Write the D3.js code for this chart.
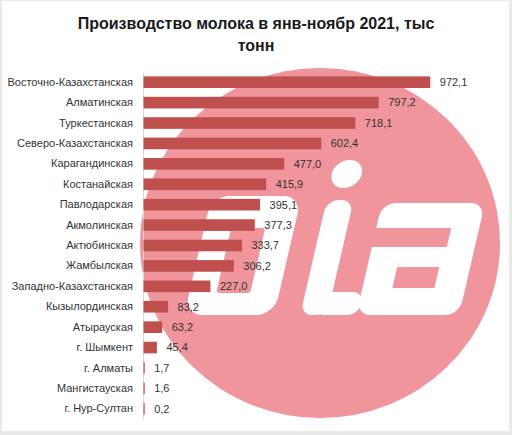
<!DOCTYPE html>
<html>
<head>
<meta charset="utf-8">
<script src="https://cdn.jsdelivr.net/npm/d3@7"></script>
<style>
    body { margin: 0; background: #e9e9e9; }
    svg { display: block; }
</style>
</head>
<body>
<svg id="chart" width="512" height="435"></svg>
<script>
let regions = ["Восточно-Казахстанская", "Алматинская", "Туркестанская", "Северо-Казахстанская",
    "Карагандинская", "Костанайская", "Павлодарская", "Акмолинская", "Актюбинская", "Жамбылская",
    "Западно-Казахстанская", "Кызылординская", "Атырауская", "г. Шымкент", "г. Алматы",
    "Мангистауская", "г. Нур-Султан"];
let values = [972.1, 797.2, 718.1, 602.4, 477.0, 415.9, 395.1, 377.3, 333.7, 306.2, 227.0, 83.2, 63.2, 45.4, 1.7, 1.6, 0.2];
let titleLines = ["Производство молока в янв-ноябр 2021, тыс", "тонн"];

const barColor = "#c0504d";
const logoPink = "#f0959c";
const font = "'Liberation Sans', Arial, sans-serif";

let svg = d3.select("#chart");

// chart area (white with light grey frame)
svg.append("rect")
    .attr("x", 2).attr("y", 1)
    .attr("width", 507).attr("height", 430)
    .attr("fill", "#ffffff");

// watermark logo behind the bars
let logo = svg.append("g");
logo.append("ellipse")
    .attr("cx", 320).attr("cy", 243)
    .attr("rx", 180).attr("ry", 175)
    .attr("fill", logoPink);

// letters are slanted around y = 203
let letters = logo.append("g")
    .attr("transform", "translate(0,203) skewX(-13) translate(0,-203)");
// ring
letters.append("rect").attr("x", 210).attr("y", 196).attr("width", 90).attr("height", 119).attr("rx", 18).attr("fill", "#fff");
letters.append("rect").attr("x", 237).attr("y", 228).attr("width", 34).attr("height", 65).attr("rx", 3).attr("fill", logoPink);
// i
letters.append("ellipse").attr("cx", 340).attr("cy", 174).attr("rx", 15).attr("ry", 14).attr("fill", "#fff");
letters.append("rect").attr("x", 326).attr("y", 200).attr("width", 27).attr("height", 115).attr("rx", 12).attr("fill", "#fff");
letters.append("rect").attr("x", 340).attr("y", 292).attr("width", 44).attr("height", 23).attr("rx", 10).attr("fill", "#fff");
// a
letters.append("rect").attr("x", 382).attr("y", 203).attr("width", 103).attr("height", 112).attr("rx", 14).attr("fill", "#fff");
letters.append("rect").attr("x", 370).attr("y", 228).attr("width", 87).attr("height", 19).attr("fill", logoPink);
letters.append("rect").attr("x", 412).attr("y", 267).attr("width", 42).attr("height", 21).attr("fill", logoPink);

// title
svg.append("g").selectAll("text")
    .data(titleLines)
    .enter().append("text")
        .attr("x", 256)
        .attr("y", (d, i) => 29 + i * 22)
        .attr("text-anchor", "middle")
        .style("font-family", font)
        .style("font-weight", "bold")
        .style("font-size", "16px")
        .attr("fill", "#1a1a1a")
        .text(d => d);

// scales
let x = d3.scaleLinear()
    .domain([0, 1000])
    .range([143, 438]);

let y = d3.scaleBand()
    .domain(regions)
    .range([72, 419])
    .paddingInner(0.43)
    .paddingOuter(0.215);

// y axis with category labels
let yAxis = svg.append("g")
    .attr("transform", "translate(143,0)")
    .call(d3.axisLeft(y).tickSize(0).tickSizeOuter(0).tickPadding(10));
yAxis.select(".domain").attr("stroke", "#d9d9d9");
yAxis.selectAll("text")
    .style("font-family", font)
    .style("font-size", "11px")
    .attr("fill", "#333333");

// bars
let rows = regions.map((r, i) => ({ region: r, value: values[i] }));
svg.append("g").selectAll("rect")
    .data(rows)
    .enter().append("rect")
        .attr("x", x(0) + 0.5)
        .attr("y", d => y(d.region))
        .attr("width", d => Math.max(x(d.value) - x(0), 1.2))
        .attr("height", y.bandwidth())
        .attr("fill", barColor);

// value labels
let fmt = d3.format(".1f");
svg.append("g").selectAll("text")
    .data(rows)
    .enter().append("text")
        .attr("x", d => Math.max(x(d.value), x(0) + 1.2) + 10)
        .attr("y", d => y(d.region) + y.bandwidth() / 2)
        .attr("dy", "0.35em")
        .style("font-family", font)
        .style("font-size", "11px")
        .attr("fill", "#333333")
        .text(d => fmt(d.value).replace(".", ","));
</script>
</body>
</html>
